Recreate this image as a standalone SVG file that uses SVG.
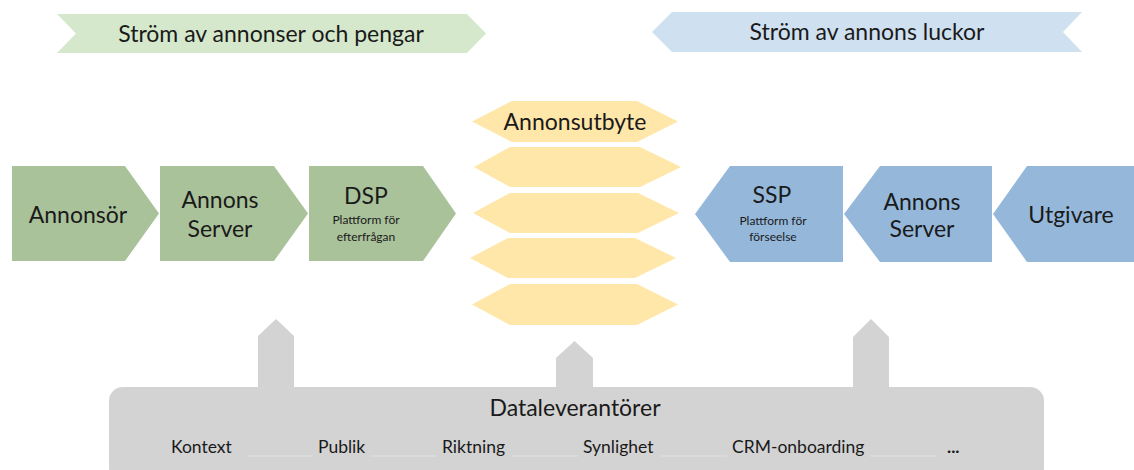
<svg xmlns="http://www.w3.org/2000/svg" width="1134" height="470" viewBox="0 0 1134 470">
<style>
text{font-family:Lato,"Open Sans","Liberation Sans",sans-serif;fill:#1a1a1a;text-anchor:middle}
.big{font-size:23px}
.ban{font-size:23px}
.sm{font-size:12px}
.item{font-size:17.5px;text-anchor:start}
.green{fill:#A9C29A}
.blue{fill:#95B8DA}
.yel{fill:#FFE6A9}
.gray{fill:#D3D3D3}
.sep{stroke:#DCDCDC;stroke-width:1.5}
</style>
<rect width="1134" height="470" fill="#fff"/>
<g id="banner-left">
<polygon points="57,14 467,14 486,33.5 467,53 57,53 76,33.5" fill="#D5E8CB"/>
<text class="ban" x="271" y="42">Ström av annonser och pengar</text>
</g>
<g id="banner-right">
<polygon points="652,32 672,12 1082,12 1063,32 1082,52 672,52" fill="#CFE0F1"/>
<text class="ban" x="867" y="40">Ström av annons luckor</text>
</g>
<g id="annonsor">
<polygon class="green" points="12,166 125,166 159,213.5 125,261 12,261"/>
<text class="big" x="78" y="223">Annonsör</text>
</g>
<g id="annons-server-left">
<polygon class="green" points="160,166 274,166 308,213.5 274,261 160,261"/>
<text class="big" x="220" y="208">Annons</text>
<text class="big" x="220" y="237">Server</text>
</g>
<g id="dsp">
<polygon class="green" points="309,166 423,166 456,213.5 423,261 309,261"/>
<text class="big" x="366" y="204">DSP</text>
<text class="sm" x="366" y="224">Plattform för</text>
<text class="sm" x="366" y="241">efterfrågan</text>
</g>
<g id="annonsutbyte">
<polygon class="yel" points="472,121.5 512,101 637,101 678,121.5 637,142 512,142"/>
<polygon class="yel" points="474,167 510,147 640,147 681,167 640,187 510,187"/>
<polygon class="yel" points="473,213 510,193 638,193 679,213 638,233 510,233"/>
<polygon class="yel" points="470,258 508,238 635,238 676,258 635,278 508,278"/>
<polygon class="yel" points="472,304.5 510,284 637,284 678,304.5 637,325 510,325"/>
<text class="big" x="575" y="130">Annonsutbyte</text>
</g>
<g id="ssp">
<polygon class="blue" points="695,214 730,166 843,166 843,262 730,262"/>
<text class="big" x="772" y="203">SSP</text>
<text class="sm" x="773" y="225">Plattform för</text>
<text class="sm" x="773" y="241">förseelse</text>
</g>
<g id="annons-server-right">
<polygon class="blue" points="844,214 880,166 992,166 992,262 880,262"/>
<text class="big" x="922" y="210">Annons</text>
<text class="big" x="922" y="237">Server</text>
</g>
<g id="utgivare">
<polygon class="blue" points="993,214 1027,166 1134,166 1134,262 1027,262"/>
<text class="big" x="1071" y="223">Utgivare</text>
</g>
<g id="connectors">
<polygon class="gray" points="258,389 258,336 276,319 294,336 294,389"/>
<polygon class="gray" points="556,389 556,358 574.5,341 593,358 593,389"/>
<polygon class="gray" points="853,389 853,337 871,319 889,337 889,389"/>
</g>
<g id="dataleverantorer">
<rect class="gray" x="109" y="387" width="935" height="95" rx="14"/>
<text class="big" x="575" y="416">Dataleverantörer</text>
<line class="sep" x1="247" y1="456" x2="313" y2="456"/>
<line class="sep" x1="370" y1="456" x2="437" y2="456"/>
<line class="sep" x1="512" y1="456" x2="578" y2="456"/>
<line class="sep" x1="660" y1="456" x2="727" y2="456"/>
<line class="sep" x1="870" y1="456" x2="937" y2="456"/>
<text class="item" x="171" y="453">Kontext</text>
<text class="item" x="318" y="453">Publik</text>
<text class="item" x="442" y="453">Riktning</text>
<text class="item" x="583" y="453">Synlighet</text>
<text class="item" x="732" y="453">CRM-onboarding</text>
<text class="item" x="947" y="453" style="font-weight:bold">...</text>
</g>
</svg>
